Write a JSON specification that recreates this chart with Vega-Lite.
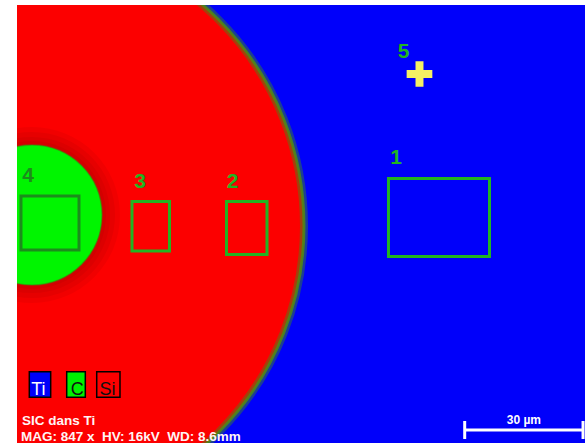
{
  "$schema": "https://vega.github.io/schema/vega-lite/v6.json",
  "width": 568,
  "height": 438,
  "autosize": {"type": "none"},
  "padding": {"left": 17, "top": 5, "right": 0, "bottom": 0},
  "background": "white",
  "config": {"view": {"fill": "#0000fa", "stroke": null}},
  "datasets": {
    "matrix": [{"phase": "Si", "x": -1.27, "y": 56.03, "d": 148.06}],
    "halo": [
      {"x": 3.8, "y": 53.24, "d": 44.6},
      {"x": 3.8, "y": 53.24, "d": 42.1},
      {"x": 3.8, "y": 53.24, "d": 39.6},
      {"x": 3.8, "y": 53.24, "d": 37.5}
    ],
    "inclusion": [{"phase": "C", "x": 3.8, "y": 53.24, "d": 35.5}],
    "zones": [
      {"id": "1", "x": 94.18, "x2": 119.79, "y": 43.99, "y2": 63.76},
      {"id": "2", "x": 53.11, "x2": 63.38, "y": 49.82, "y2": 63.25},
      {"id": "3", "x": 29.15, "x2": 38.66, "y": 49.82, "y2": 62.37},
      {"id": "4", "x": 1.01, "x2": 15.72, "y": 48.42, "y2": 62.11}
    ],
    "labels": [
      {"id": "1", "x": 96.09, "y": 38.79},
      {"id": "2", "x": 54.63, "y": 44.75},
      {"id": "3", "x": 31.18, "y": 44.75},
      {"id": "4", "x": 2.79, "y": 43.23},
      {"id": "5", "x": 97.99, "y": 12.04}
    ],
    "spot": [{"id": "5", "x": 102.04, "y": 17.49}],
    "legend": [
      {"el": "Ti", "x": 3.12, "x2": 8.54, "y": 92.97, "y2": 99.46},
      {"el": "C", "x": 12.6, "x2": 17.32, "y": 92.97, "y2": 99.46},
      {"el": "Si", "x": 20.21, "x2": 26.11, "y": 92.97, "y2": 99.46}
    ],
    "legendText": [
      {"el": "Ti", "x": 3.6, "y": 98.87},
      {"el": "C", "x": 13.6, "y": 98.87},
      {"el": "Si", "x": 20.9, "y": 98.87}
    ],
    "info": [
      {"t": "SIC dans Ti", "x": 1.27, "y": 106.45},
      {"t": "MAG: 847 x\u00a0\u00a0HV: 16kV\u00a0\u00a0WD: 8.6mm", "x": 1.01, "y": 110.55}
    ],
    "bar": [
      {"x": 113.5, "x2": 143.5, "y": 107.75, "y2": 107.75},
      {"x": 113.5, "x2": 113.5, "y": 105.47, "y2": 110.03},
      {"x": 143.5, "x2": 143.5, "y": 105.47, "y2": 110.03}
    ],
    "barLabel": [{"t": "30 µm", "x": 128.5, "y": 105.34}]
  },
  "encoding": {
    "x": {"field": "x", "type": "quantitative", "scale": {"domain": [0, 144], "nice": false, "zero": false}, "axis": null},
    "y": {"field": "y", "type": "quantitative", "scale": {"domain": [0, 111.05], "reverse": true, "nice": false, "zero": false}, "axis": null}
  },
  "layer": [
    {
      "data": {"name": "matrix"},
      "mark": {"type": "point", "shape": "circle", "filled": true, "opacity": 1, "color": "#fc0000", "clip": true},
      "encoding": {"size": {"field": "d", "type": "quantitative", "scale": {"type": "pow", "exponent": 2, "domain": [0, 100], "range": [0, 155583]}, "legend": null}}
    },
    {
      "data": {"name": "matrix"},
      "mark": {"type": "point", "shape": "circle", "filled": false, "opacity": 0.45, "color": "#3f8a1a", "strokeWidth": 8, "clip": true},
      "encoding": {"size": {"field": "d", "type": "quantitative", "scale": {"type": "pow", "exponent": 2, "domain": [0, 100], "range": [0, 155583]}, "legend": null}}
    },
    {
      "data": {"name": "matrix"},
      "mark": {"type": "point", "shape": "circle", "filled": false, "opacity": 0.85, "color": "#4e8a14", "strokeWidth": 3, "clip": true},
      "encoding": {"size": {"field": "d", "type": "quantitative", "scale": {"type": "pow", "exponent": 2, "domain": [0, 100], "range": [0, 155583]}, "legend": null}}
    },
    {
      "data": {"name": "halo"},
      "mark": {"type": "point", "shape": "circle", "filled": true, "opacity": 0.06, "color": "#400000", "clip": true},
      "encoding": {"size": {"field": "d", "type": "quantitative", "scale": {"type": "pow", "exponent": 2, "domain": [0, 100], "range": [0, 155583]}, "legend": null}}
    },
    {
      "data": {"name": "inclusion"},
      "mark": {"type": "point", "shape": "circle", "filled": true, "opacity": 1, "color": "#00f500", "stroke": "#3a8a10", "strokeWidth": 1.5, "strokeOpacity": 0.5, "clip": true},
      "encoding": {"size": {"field": "d", "type": "quantitative", "scale": {"type": "pow", "exponent": 2, "domain": [0, 100], "range": [0, 155583]}, "legend": null}}
    },
    {
      "data": {"name": "zones"},
      "mark": {"type": "rect", "filled": false, "strokeWidth": 3, "clip": true},
      "encoding": {
        "x2": {"field": "x2"},
        "y2": {"field": "y2"},
        "color": {"condition": {"test": "datum.id === '4'", "value": "#1c8c1c"}, "value": "#22b422"}
      }
    },
    {
      "data": {"name": "labels"},
      "mark": {"type": "text", "font": "Liberation Sans", "fontSize": 21, "fontWeight": "bold", "align": "center", "baseline": "middle", "clip": true},
      "encoding": {
        "text": {"field": "id"},
        "color": {"condition": {"test": "datum.id === '4'", "value": "#1c8c1c"}, "value": "#22b422"}
      }
    },
    {
      "data": {"name": "spot"},
      "mark": {"type": "point", "shape": "M-1,-0.31H1V0.31H-1Z M-0.31,-1H0.31V1H-0.31Z", "filled": true, "opacity": 1, "color": "#f5f064", "size": 660}
    },
    {
      "data": {"name": "legend"},
      "mark": {"type": "rect", "stroke": "#000000", "strokeWidth": 1.5, "opacity": 1},
      "encoding": {
        "x2": {"field": "x2"},
        "y2": {"field": "y2"},
        "color": {"field": "el", "type": "nominal", "scale": {"domain": ["Ti", "C", "Si"], "range": ["#0000fa", "#00f000", "#fc0000"]}, "legend": null}
      }
    },
    {
      "data": {"name": "legendText"},
      "mark": {"type": "text", "font": "Liberation Sans", "fontSize": 18, "align": "left", "baseline": "alphabetic"},
      "encoding": {
        "text": {"field": "el"},
        "color": {"condition": {"test": "datum.el === 'Ti'", "value": "#ffffff"}, "value": "#101010"}
      }
    },
    {
      "data": {"name": "info"},
      "mark": {"type": "text", "font": "Liberation Sans", "fontSize": 13.5, "fontWeight": "bold", "align": "left", "baseline": "alphabetic", "color": "#fff4f4"},
      "encoding": {"text": {"field": "t"}}
    },
    {
      "data": {"name": "bar"},
      "mark": {"type": "rule", "color": "#ffffff", "strokeWidth": 3},
      "encoding": {"x2": {"field": "x2"}, "y2": {"field": "y2"}}
    },
    {
      "data": {"name": "barLabel"},
      "mark": {"type": "text", "font": "Liberation Sans", "fontSize": 12, "fontWeight": "bold", "align": "center", "baseline": "middle", "color": "#ffffff"},
      "encoding": {"text": {"field": "t"}}
    }
  ],
  "resolve": {"scale": {"color": "independent"}}
}
